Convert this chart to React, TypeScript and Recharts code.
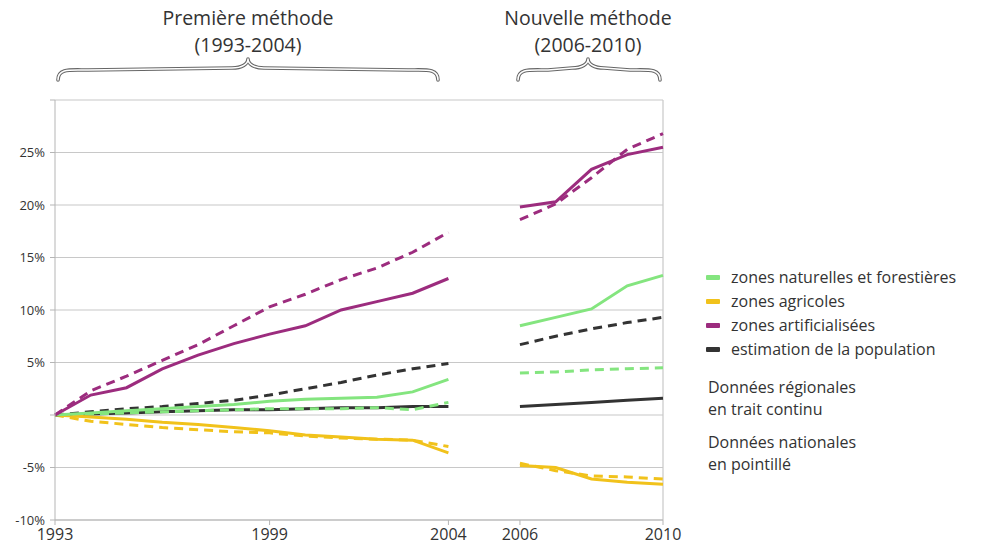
import { LineChart, Line, XAxis, YAxis, CartesianGrid, ReferenceLine, Legend } from 'recharts';

const years = [1993, 1994, 1995, 1996, 1997, 1998, 1999, 2000, 2001, 2002, 2003, 2004, 2005, 2006, 2007, 2008, 2009, 2010];

// 2005 = pas de donnée (changement de méthode)
const naturellesReg = [0, 0.2, 0.4, 0.6, 0.8, 1.0, 1.3, 1.5, 1.6, 1.7, 2.2, 3.4, null, 8.5, 9.3, 10.1, 12.3, 13.3];
const naturellesNat = [0, 0.1, 0.2, 0.3, 0.4, 0.5, 0.6, 0.6, 0.6, 0.7, 0.5, 1.2, null, 4.0, 4.1, 4.3, 4.4, 4.5];
const agricolesReg = [0, -0.2, -0.4, -0.7, -0.9, -1.2, -1.5, -1.9, -2.1, -2.3, -2.4, -3.6, null, -4.8, -5.0, -6.1, -6.4, -6.6];
const agricolesNat = [0, -0.6, -0.9, -1.2, -1.4, -1.6, -1.7, -2.0, -2.2, -2.3, -2.4, -3.0, null, -4.6, -5.3, -5.8, -5.9, -6.1];
const artificialiseesReg = [0, 1.9, 2.6, 4.4, 5.7, 6.8, 7.7, 8.5, 10.0, 10.8, 11.6, 13.0, null, 19.8, 20.3, 23.4, 24.8, 25.5];
const artificialiseesNat = [0, 2.3, 3.7, 5.2, 6.7, 8.5, 10.3, 11.5, 12.9, 14.0, 15.5, 17.4, null, 18.6, 20.1, 22.6, 25.3, 26.8];
const populationReg = [0, 0.1, 0.2, 0.3, 0.4, 0.5, 0.5, 0.6, 0.7, 0.7, 0.8, 0.8, null, 0.8, 1.0, 1.2, 1.4, 1.6];
const populationNat = [0, 0.3, 0.6, 0.8, 1.1, 1.4, 1.9, 2.5, 3.1, 3.8, 4.4, 4.9, null, 6.7, 7.5, 8.2, 8.8, 9.3];

const xTicks = [1993, 1999, 2004, 2006, 2010];
const yTicks = [-10, -5, 0, 5, 10, 15, 20, 25, 30];

const GREEN = '#84e57f';
const YELLOW = '#f1c21b';
const PURPLE = '#9c2c7e';
const BLACK = '#333333';

const legendItems = [
  { label: 'zones naturelles et forestières', color: GREEN },
  { label: 'zones agricoles', color: YELLOW },
  { label: 'zones artificialisées', color: PURPLE },
  { label: 'estimation de la population', color: BLACK },
];

const data = years.map((year, i) => ({
  year,
  natReg: naturellesReg[i],
  natNat: naturellesNat[i],
  agrReg: agricolesReg[i],
  agrNat: agricolesNat[i],
  artReg: artificialiseesReg[i],
  artNat: artificialiseesNat[i],
  popReg: populationReg[i],
  popNat: populationNat[i],
}));

const font = '"Open Sans", sans-serif';

function LegendBox() {
  return (
    <div style={{ fontFamily: font, fontSize: 16, color: '#333', lineHeight: '24px' }}>
      {legendItems.map((p) => (
        <div key={p.label} style={{ display: 'flex', alignItems: 'center' }}>
          <span style={{ display: 'inline-block', width: 14, height: 5, background: p.color, marginRight: 11, borderRadius: 1 }} />
          {p.label}
        </div>
      ))}
      <div style={{ marginTop: 15, lineHeight: '22px', marginLeft: 2 }}>
        Données régionales<br />en trait continu
      </div>
      <div style={{ marginTop: 11, lineHeight: '22px', marginLeft: 2 }}>
        Données nationales<br />en pointillé
      </div>
    </div>
  );
}

function Brace({ x1, x2, tip, y }: { x1: number; x2: number; tip: number; y: number }) {
  const d = `M ${x1} ${y + 18} C ${x1} ${y + 6}, ${x1 + 12} ${y + 8}, ${x1 + 30} ${y + 8}
    L ${tip - 16} ${y + 6} C ${tip - 6} ${y + 6}, ${tip} ${y + 2}, ${tip} ${y - 3}
    C ${tip} ${y + 2}, ${tip + 6} ${y + 6}, ${tip + 16} ${y + 6}
    L ${x2 - 30} ${y + 8} C ${x2 - 12} ${y + 8}, ${x2} ${y + 6}, ${x2} ${y + 18}`;
  return (
    <g fill="none" strokeLinejoin="round" strokeLinecap="round">
      <path d={d} stroke="#666" strokeWidth={3.6} />
      <path d={d} stroke="#fff" strokeWidth={1.5} />
    </g>
  );
}

export default function App() {
  return (
    <div style={{ position: 'absolute', left: 0, top: 0, width: 981, height: 550, background: '#fff' }}>
      <div style={{ position: 'absolute', left: 0, top: 0, width: 981, fontFamily: font, fontSize: 19.5, color: '#333', lineHeight: '27px' }}>
        <div style={{ position: 'absolute', left: 138, top: 4, width: 220, textAlign: 'center' }}>Première méthode<br />(1993-2004)</div>
        <div style={{ position: 'absolute', left: 478, top: 4, width: 220, textAlign: 'center' }}>Nouvelle méthode<br />(2006-2010)</div>
      </div>
      <svg width={981} height={100} style={{ position: 'absolute', left: 0, top: 0 }}>
        <Brace x1={58} x2={438} tip={248} y={62} />
        <Brace x1={518} x2={660} tip={588} y={62} />
      </svg>
      <div style={{ position: 'absolute', left: 0, top: 0 }}>
        <LineChart width={981} height={550} data={data} margin={{ top: 100, right: 318, bottom: 0, left: 0 }}>
          <CartesianGrid vertical={false} stroke="#c8c8c8" strokeWidth={1.2} />
          <XAxis
            dataKey="year"
            type="number"
            domain={[1993, 2010]}
            ticks={xTicks}
            height={30}
            tickSize={5}
            tickMargin={4}
            stroke="#b5b5b5"
            tick={{ fill: '#333', fontSize: 16, fontFamily: font }}
          />
          <YAxis
            domain={[-10, 30]}
            ticks={yTicks}
            width={55}
            tickSize={5}
            tickMargin={5}
            stroke="#b5b5b5"
            tickFormatter={(v: number) => (v === 0 || v === 30 ? '' : `${v}%`)}
            tick={{ fill: '#333', fontSize: 13, fontFamily: font }}
          />
          <ReferenceLine x={2010} stroke="#c8c8c8" strokeWidth={1.2} />
          <Legend
            content={<LegendBox />}
            layout="horizontal"
            verticalAlign="middle"
            align="center"
            wrapperStyle={{ left: 706, top: 265, width: 275 }}
          />
          <Line dataKey="popReg" stroke={BLACK} strokeWidth={3} dot={false} isAnimationActive={false} />
          <Line dataKey="natNat" stroke={GREEN} strokeWidth={3} strokeDasharray="9 6" dot={false} isAnimationActive={false} />
          <Line dataKey="agrNat" stroke={YELLOW} strokeWidth={3} strokeDasharray="9 6" dot={false} isAnimationActive={false} />
          <Line dataKey="agrReg" stroke={YELLOW} strokeWidth={3} dot={false} isAnimationActive={false} />
          <Line dataKey="popNat" stroke={BLACK} strokeWidth={3} strokeDasharray="9 6" dot={false} isAnimationActive={false} />
          <Line dataKey="natReg" stroke={GREEN} strokeWidth={3} dot={false} isAnimationActive={false} />
          <Line dataKey="artNat" stroke={PURPLE} strokeWidth={3} strokeDasharray="9 6" dot={false} isAnimationActive={false} />
          <Line dataKey="artReg" stroke={PURPLE} strokeWidth={3} dot={false} isAnimationActive={false} />
        </LineChart>
      </div>
    </div>
  );
}
